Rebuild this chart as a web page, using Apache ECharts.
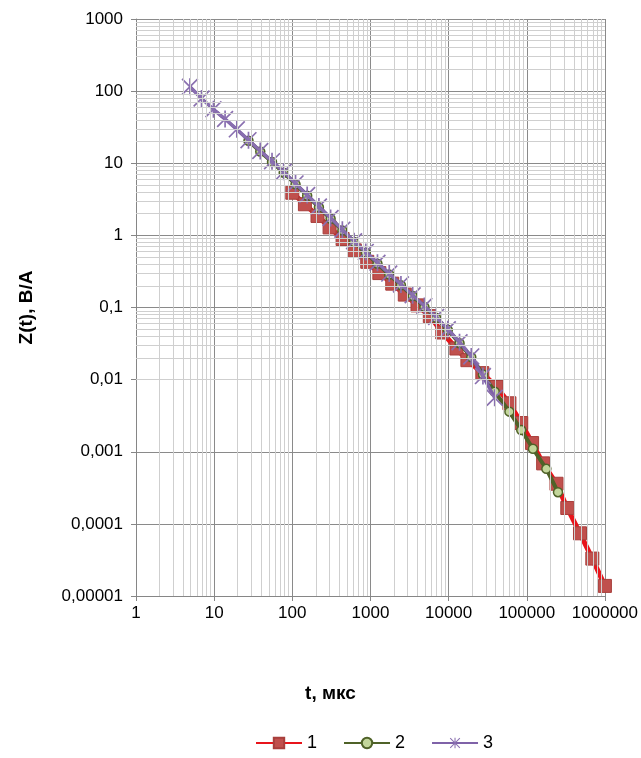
<!DOCTYPE html>
<html>
<head>
<meta charset="utf-8">
<script src="https://cdn.jsdelivr.net/npm/echarts@6/dist/echarts.min.js"></script>
<style>
html,body{margin:0;padding:0;background:#fff;}
#chart{width:641px;height:758px;}
</style>
</head>
<body>
<div id="chart"></div>
<script>
// Tick labels
const xTickLabels = ['1','10','100','1000','10000','100000','1000000'];
const yTickLabels = ['0,00001','0,0001','0,001','0,01','0,1','1','10','100','1000'];

// Series 1 (red squares)
const s1T = [100, 145, 210, 300, 440, 630, 910, 1300, 1900, 2750, 4000, 5750, 8300, 12600, 17400, 27000, 41000, 60000, 85000, 117000, 162000, 240000, 330000, 480000, 690000, 1000000];
const s1Z = [3.9, 2.7, 1.86, 1.29, 0.89, 0.62, 0.43, 0.30, 0.214, 0.151, 0.107, 0.076, 0.045, 0.027, 0.0186, 0.0123, 0.0079, 0.0047, 0.0025, 0.00132, 0.00069, 0.00036, 0.000166, 0.000074, 0.000033, 0.0000138];

// Series 2 (green circles)
const s2T = [27.5, 38.9, 55, 77.6, 110, 155, 219, 309, 437, 617, 871, 1230, 1740, 2455, 3467, 4900, 6920, 9770, 13800, 19500, 27500, 38900, 60000, 85000, 120000, 178000, 251000];
const s2Z = [20.5, 14.5, 10.4, 7.4, 5.1, 3.55, 2.45, 1.70, 1.17, 0.81, 0.575, 0.405, 0.287, 0.204, 0.144, 0.102, 0.072, 0.049, 0.032, 0.0205, 0.0118, 0.0068, 0.0036, 0.0020, 0.0011, 0.00058, 0.000275];

// Series 3 (purple asterisks)
const s3T = [4.9, 6.9, 9.8, 13.8, 19.5, 27.5, 38.9, 55, 77.6, 110, 155, 219, 309, 437, 617, 871, 1230, 1740, 2455, 3467, 4900, 6920, 9770, 13800, 19500, 27500, 38900];
const s3Z = [115, 79, 56, 41, 29.5, 20.9, 14.8, 10.7, 7.6, 5.25, 3.63, 2.51, 1.74, 1.20, 0.83, 0.59, 0.417, 0.295, 0.209, 0.148, 0.105, 0.074, 0.050, 0.033, 0.021, 0.0112, 0.0056];

const seriesNames = ['1', '2', '3'];

const zip = (a, b) => a.map((v, i) => [v, b[i]]);

// minor grid values (2..9 within each decade)
const minorX = [], minorY = [];
for (let e = 0; e < 6; e++) for (let k = 2; k <= 9; k++) minorX.push(k * Math.pow(10, e));
for (let e = -5; e < 3; e++) for (let k = 2; k <= 9; k++) minorY.push(+(k * Math.pow(10, e)).toPrecision(3));

const asterisk = 'path://M9 0 L11 0 L11 20 L9 20 Z M0 1.4 L1.4 0 L20 18.6 L18.6 20 Z M18.6 0 L20 1.4 L1.4 20 L0 18.6 Z';

const chart = echarts.init(document.getElementById('chart'), null, {renderer: 'canvas'});
const font = 'Liberation Sans, Arial, sans-serif';

chart.setOption({
  animation: false,
  backgroundColor: '#ffffff',
  textStyle: {fontFamily: font},
  grid: {left: 136, right: 35, top: 19, bottom: 162, containLabel: false},
  xAxis: {
    type: 'log', logBase: 10, min: 1, max: 1000000,
    name: 't, мкс', nameLocation: 'middle', nameGap: 88,
    nameTextStyle: {fontFamily: font, fontSize: 19, fontWeight: 'bold', color: '#000', padding: [0, 80, 0, 0]},
    axisLine: {show: true, lineStyle: {color: '#868686', width: 1}},
    axisTick: {show: true, length: 5, lineStyle: {color: '#868686'}},
    axisLabel: {
      color: '#000', fontSize: 17, fontFamily: font, margin: 9,
      formatter: v => xTickLabels[Math.round(Math.log10(v))]
    },
    splitLine: {show: true, lineStyle: {color: '#8a8a8a', width: 1}}
  },
  yAxis: {
    type: 'log', logBase: 10, min: 0.00001, max: 1000,
    name: 'Z(t), В/А', nameLocation: 'middle', nameGap: 100, nameRotate: 90,
    nameTextStyle: {fontFamily: font, fontSize: 19, fontWeight: 'bold', color: '#000'},
    axisLine: {show: true, lineStyle: {color: '#868686', width: 1}},
    axisTick: {show: true, length: 5, lineStyle: {color: '#868686'}},
    axisLabel: {
      color: '#000', fontSize: 17, fontFamily: font, margin: 13,
      formatter: v => yTickLabels[Math.round(Math.log10(v)) + 5]
    },
    splitLine: {show: true, lineStyle: {color: '#8a8a8a', width: 1}}
  },
  legend: {
    data: seriesNames,
    left: 250, bottom: 1,
    itemWidth: 46, itemHeight: 13, itemGap: 26,
    textStyle: {color: '#000', fontSize: 18, fontFamily: font}
  },
  series: [
    {
      name: 'grid-minor', type: 'line', data: [], z: 0, silent: true,
      markLine: {
        silent: true, symbol: 'none', animation: false,
        label: {show: false},
        lineStyle: {color: '#cfcfcf', width: 1, type: 'solid'},
        emphasis: {disabled: true},
        data: minorX.map(v => ({xAxis: v})).concat(minorY.map(v => ({yAxis: v})))
      }
    },
    {
      name: '1', type: 'line', data: zip(s1T, s1Z), z: 2,
      symbol: 'rect', symbolSize: 13,
      lineStyle: {color: '#e8141b', width: 5},
      itemStyle: {color: '#c0504d', borderColor: '#a83f3c', borderWidth: 1},
      color: '#e8141b'
    },
    {
      name: '2', type: 'line', data: zip(s2T, s2Z), z: 3,
      symbol: 'circle', symbolSize: 9,
      lineStyle: {color: '#4f6228', width: 4},
      itemStyle: {color: '#c3d69b', borderColor: '#4f6228', borderWidth: 1.5},
      color: '#4f6228'
    },
    {
      name: '3', type: 'line', data: zip(s3T, s3Z), z: 4,
      symbol: asterisk, symbolSize: 17,
      lineStyle: {color: '#7f62a8', width: 3.5},
      itemStyle: {color: '#8a70b0', borderWidth: 0},
      color: '#7f62a8'
    }
  ]
});
</script>
</body>
</html>
